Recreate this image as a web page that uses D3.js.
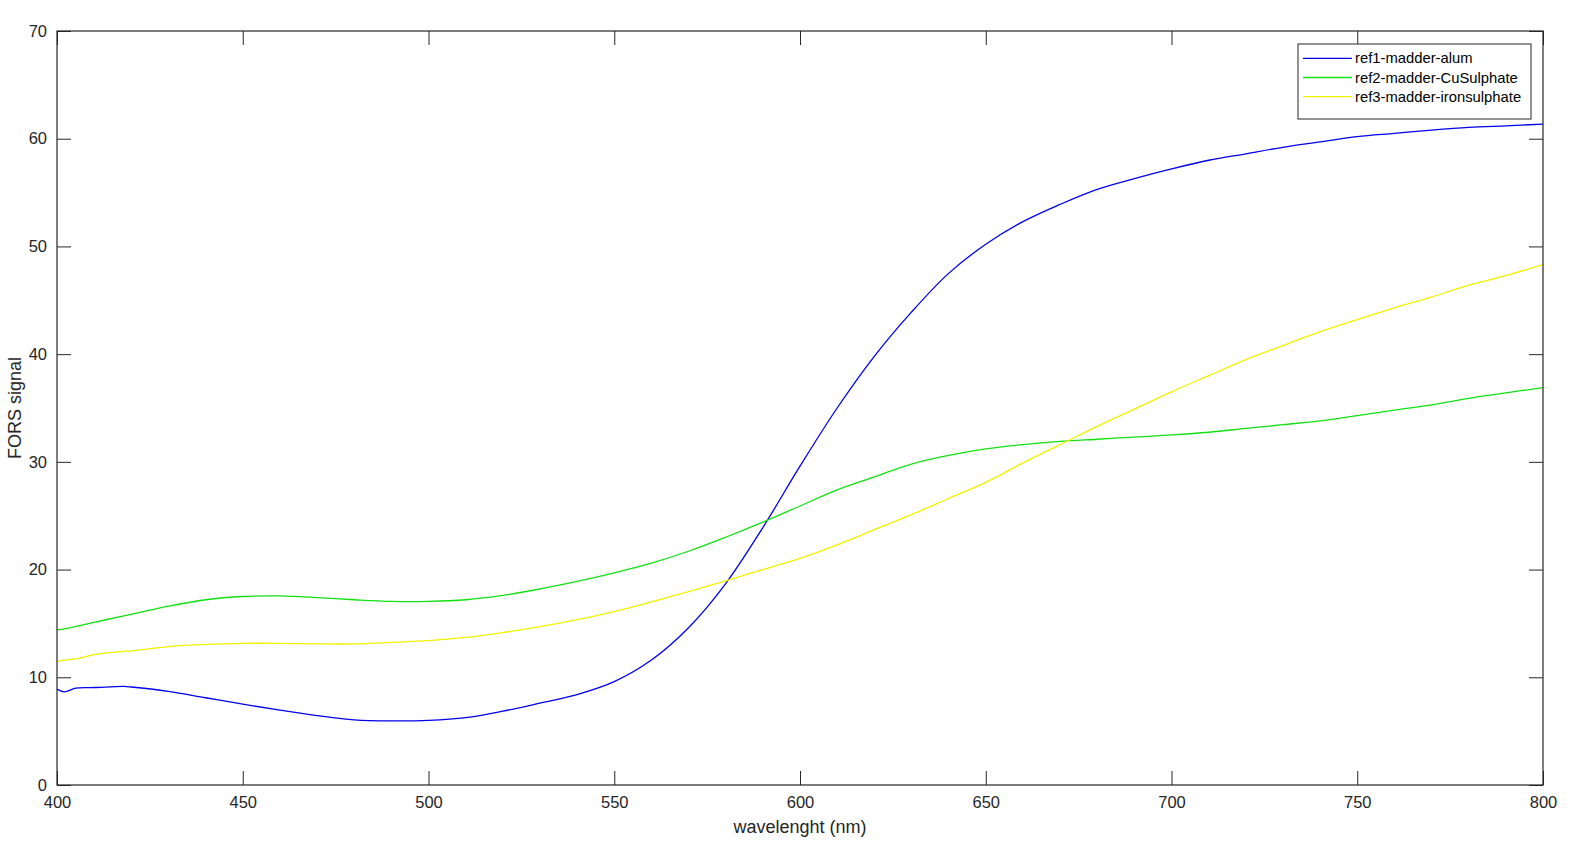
<!DOCTYPE html>
<html><head><meta charset="utf-8">
<script src="https://cdn.jsdelivr.net/npm/d3@7/dist/d3.min.js"></script>
<style>
html,body{margin:0;padding:0;background:#fff;}
svg{display:block;font-family:"Liberation Sans",Arial,sans-serif;}
</style></head>
<body>
<svg id="chart" width="1579" height="850"></svg>
<script>
const wavelengths = [400,402,405,410,418,420,430,440,450,460,470,480,490,500,510,520,530,540,550,560,570,580,590,600,610,620,630,640,650,660,670,680,690,700,710,720,730,740,750,760,770,780,790,800];
const ref1Alum = [8.9,8.65,9.0,9.05,9.15,9.1,8.7,8.1,7.5,6.95,6.45,6.05,5.95,6.0,6.25,6.85,7.6,8.4,9.6,11.6,14.6,18.7,23.9,29.6,35.0,39.8,43.9,47.5,50.2,52.3,53.9,55.3,56.3,57.2,58.0,58.6,59.2,59.7,60.2,60.5,60.8,61.05,61.2,61.35];
const ref2CuSulphate = [14.4,14.5,14.7,15.1,15.7,15.85,16.6,17.2,17.5,17.55,17.4,17.2,17.05,17.05,17.2,17.6,18.2,18.9,19.7,20.6,21.7,23.0,24.4,25.9,27.4,28.6,29.8,30.6,31.2,31.6,31.9,32.1,32.3,32.5,32.75,33.1,33.45,33.8,34.3,34.8,35.3,35.9,36.4,36.9];
const ref3IronSulphate = [11.45,11.6,11.7,12.1,12.4,12.45,12.85,13.05,13.15,13.15,13.1,13.1,13.25,13.4,13.7,14.15,14.7,15.35,16.1,17.0,17.95,18.95,20.0,21.05,22.3,23.7,25.1,26.6,28.1,29.9,31.6,33.3,34.9,36.5,38.0,39.5,40.8,42.1,43.2,44.3,45.3,46.4,47.3,48.3];
const seriesNames = ["ref1-madder-alum","ref2-madder-CuSulphate","ref3-madder-ironsulphate"];
const seriesColors = ["#0000ee","#11e011","#f2f200"];
const xTicks = [400,450,500,550,600,650,700,750,800];
const yTicks = [0,10,20,30,40,50,60,70];
const xLabel = "wavelenght (nm)";
const yLabel = "FORS signal";

const pL = 57, pR = 1543, pT = 31, pB = 785;
const svg = d3.select("#chart");
const x = d3.scaleLinear().domain([400,800]).range([pL,pR]);
const y = d3.scaleLinear().domain([0,70]).range([pB,pT]);
const axisColor = "#262626";
const tickLen = 14;

// lines
const allSeries = [ref1Alum, ref2CuSulphate, ref3IronSulphate];
const line = d3.line().x((d,i)=>x(wavelengths[i])).y(d=>y(d)).curve(d3.curveCatmullRom.alpha(0.5));
allSeries.forEach((s,k)=>{
  svg.append("path").datum(s).attr("d",line).attr("fill","none")
    .attr("stroke",seriesColors[k]).attr("stroke-width",1.3);
});

// axes
const fmt = d3.format("d");
const gx = svg.append("g").attr("transform",`translate(0,${pB})`)
  .call(d3.axisBottom(x).tickValues(xTicks).tickFormat(fmt).tickSize(-tickLen).tickPadding(11));
const gxt = svg.append("g").attr("transform",`translate(0,${pT})`)
  .call(d3.axisTop(x).tickValues(xTicks).tickFormat("").tickSize(-tickLen));
const gy = svg.append("g").attr("transform",`translate(${pL},0)`)
  .call(d3.axisLeft(y).tickValues(yTicks).tickFormat(fmt).tickSize(-tickLen).tickPadding(10));
const gyr = svg.append("g").attr("transform",`translate(${pR},0)`)
  .call(d3.axisRight(y).tickValues(yTicks).tickFormat("").tickSize(-tickLen));
[gx,gxt,gy,gyr].forEach(g=>{
  g.select(".domain").remove();
  g.selectAll(".tick line").attr("stroke",axisColor).attr("stroke-width",1);
  g.selectAll(".tick text").attr("fill",axisColor).style("font-size","16.5px").style("font-family",'"Liberation Sans",Arial,sans-serif');
});
svg.append("rect").attr("x",pL).attr("y",pT).attr("width",pR-pL).attr("height",pB-pT)
  .attr("fill","none").attr("stroke",axisColor).attr("stroke-width",1.2);

// labels
svg.append("text").attr("x",(pL+pR)/2).attr("y",833).attr("text-anchor","middle")
  .attr("fill",axisColor).style("font-size","18px").text(xLabel);
svg.append("text").attr("transform",`translate(21,${(pT+pB)/2}) rotate(-90)`).attr("text-anchor","middle")
  .attr("fill",axisColor).style("font-size","18px").text(yLabel);

// legend
const lg = svg.append("g");
lg.append("rect").attr("x",1298).attr("y",44).attr("width",233).attr("height",75)
  .attr("fill","#fff").attr("stroke",axisColor).attr("stroke-width",1);
seriesNames.forEach((n,k)=>{
  const cy = 58.3 + k*19.2;
  lg.append("line").attr("x1",1303).attr("x2",1352).attr("y1",cy).attr("y2",cy)
    .attr("stroke",seriesColors[k]).attr("stroke-width",1.3);
  lg.append("text").attr("x",1355).attr("y",cy).attr("dy","0.35em").attr("fill","#000")
    .style("font-size","14.8px").text(n);
});
</script>
</body></html>
